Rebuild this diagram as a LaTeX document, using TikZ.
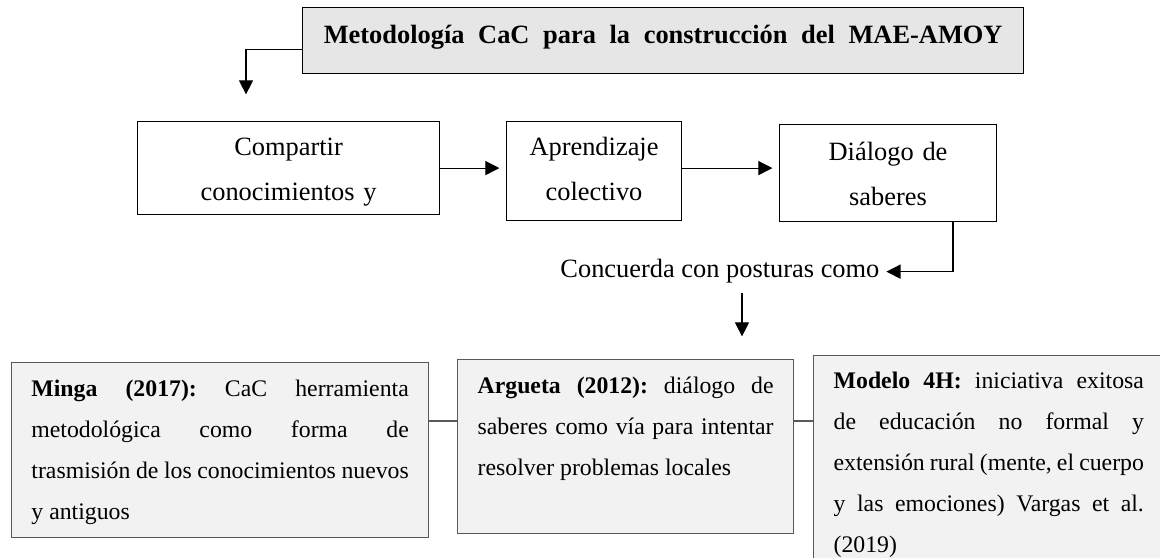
\documentclass[tikz,border=0pt]{standalone}
\usepackage{fontspec}
\setmainfont{Liberation Serif}
\usetikzlibrary{arrows.meta}
\definecolor{titlegray}{HTML}{E7E6E6}
\definecolor{boxgray}{HTML}{F2F2F2}
\definecolor{edgegray}{HTML}{595959}
\tikzset{
	flow/.style={draw=black, line width=0.5pt, shorten >=3pt, -{Triangle[length=6.4pt,width=6.4pt]}},
	link/.style={draw=edgegray, line width=0.5pt},
	stepbox/.style={draw=black, line width=0.5pt, anchor=north west, inner sep=0pt, align=center, font=\fontsize{12}{20.45}\selectfont},
	citebox/.style={draw=edgegray, fill=boxgray, line width=0.6pt, anchor=north west, inner ysep=0pt, inner xsep=9pt, align=justify, font=\fontsize{10.8}{18.6}\selectfont\frenchspacing}
}
\begin{document}
\begin{tikzpicture}[x=0.4545pt, y=-0.4545pt]
	\useasboundingbox (0,0) rectangle (1160,558);
	\clip (0,0) rectangle (1160,558);

	\node[draw=black, fill=titlegray, line width=0.6pt, anchor=north west, inner sep=0pt, align=center, text width=327.7pt, text height=16.4pt, text depth=13.6pt, font=\bfseries\fontsize{12}{14}\selectfont] (ttl) at (302,7) {\spaceskip=6.2pt\relax Metodología CaC para la construcción del MAE-AMOY};
	\coordinate (a0) at (246,101);

	\node[stepbox, text width=137.3pt, text height=15.5pt, text depth=26.8pt] (cmp) at (137,121) {Compartir\\conocimientos y};
	\node[stepbox, text width=79.5pt, text height=15.5pt, text depth=29.5pt] (apr) at (506,121) {Aprendizaje\\colectivo};
	\node[stepbox, text width=98.6pt, text height=16.4pt, text depth=27.7pt] (dlg) at (779,124) {Diálogo de\\saberes};

	\node[anchor=base west, inner sep=0pt, font=\fontsize{12}{14}\selectfont] (conc) at (560,278) {Concuerda con posturas como};
	\coordinate (a1) at (742,343);

	\node[citebox, text width=171.5pt, text height=15.5pt, text depth=64.1pt] (minga) at (11,362) {\textbf{Minga (2017):} CaC herramienta\linebreak metodológica como forma de\linebreak trasmisión de los conocimientos nuevos\linebreak y antiguos};
	\node[citebox, inner xsep=9.1pt, text width=134.5pt, text height=15.5pt, text depth=63.6pt] (arg) at (457,359) {\textbf{Argueta (2012):} diálogo de\linebreak saberes como vía para intentar\linebreak resolver problemas locales};
	\node[citebox, inner xsep=9.1pt, text width=141pt, text height=15pt, text depth=100pt] (mdl) at (813,355) {\textbf{Modelo 4H:} iniciativa exitosa\linebreak de educación no formal y\linebreak extensión rural (mente, el cuerpo\linebreak y las emociones) Vargas et al.\linebreak (2019)};
	\coordinate (jn) at (0,421);

	\draw[flow] ([yshift=-4.1pt]ttl.west) -| (a0);
	\draw[flow] (cmp.east) -- (cmp.east -| apr.west);
	\draw[flow] (apr.east |- cmp.east) -- (cmp.east -| dlg.west);
	\draw[flow] ([xshift=-20pt]dlg.south east) |- (conc.east);
	\draw[flow, shorten <=4pt] (conc.south -| a1) -- (a1);
	\draw[link] (minga.east |- jn) -- (arg.west |- jn);
	\draw[link] (arg.east |- jn) -- (mdl.west |- jn);
\end{tikzpicture}
\end{document}
